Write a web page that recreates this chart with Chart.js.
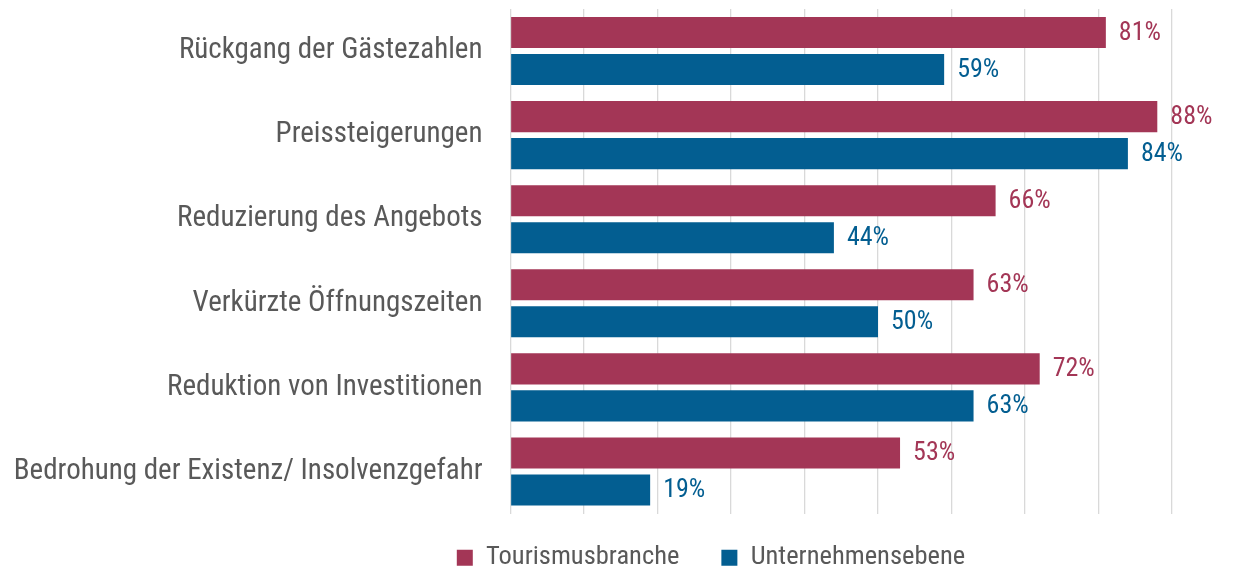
<!DOCTYPE html>
<html>
<head>
<meta charset="utf-8">
<script src="https://cdn.jsdelivr.net/npm/chart.js@4.4.1/dist/chart.umd.min.js"></script>
<style>
  html, body { margin: 0; padding: 0; background: #ffffff; }
  #wrap { position: relative; width: 1235px; height: 567px; }
</style>
</head>
<body>
<div id="wrap"><canvas id="c" width="1235" height="567"></canvas></div>
<script>
const categories = [
  "Rückgang der Gästezahlen",
  "Preissteigerungen",
  "Reduzierung des Angebots",
  "Verkürzte Öffnungszeiten",
  "Reduktion von Investitionen",
  "Bedrohung der Existenz/ Insolvenzgefahr"
];
const seriesNames = ["Tourismusbranche", "Unternehmensebene"];
const tourismValues = [81, 88, 66, 63, 72, 53];
const companyValues = [59, 84, 44, 50, 63, 19];

const PINK = "#A33656";
const BLUE = "#035E91";
const TEXT = "#595959";
const FAMILY = "'Roboto Condensed', Roboto, sans-serif";

const valueLabels = {
  id: 'valueLabels',
  afterDatasetsDraw(chart) {
    const ctx = chart.ctx;
    ctx.save();
    ctx.font = "26px " + FAMILY;
    ctx.textAlign = 'left';
    ctx.textBaseline = 'middle';
    chart.data.datasets.forEach((ds, di) => {
      const meta = chart.getDatasetMeta(di);
      ctx.fillStyle = ds.backgroundColor;
      meta.data.forEach((bar, i) => {
        ctx.fillText(ds.data[i] + "%", bar.x + 13, bar.y + 1);
      });
    });
    ctx.restore();
  }
};

// the legend in the reference sits right of the canvas centre and close to the bottom edge
const legendShift = {
  id: 'legendShift',
  afterLayout(chart) {
    const lg = chart.legend;
    if (lg) { lg.left += 120; lg.right += 120; lg.top += 6; lg.bottom += 6; }
  }
};

new Chart(document.getElementById('c'), {
  type: 'bar',
  data: {
    labels: categories,
    datasets: [
      { label: seriesNames[0], data: tourismValues, backgroundColor: PINK, categoryPercentage: 0.88, barPercentage: 0.84 },
      { label: seriesNames[1], data: companyValues, backgroundColor: BLUE, categoryPercentage: 0.88, barPercentage: 0.84 }
    ]
  },
  options: {
    indexAxis: 'y',
    responsive: false,
    animation: false,
    layout: { padding: { left: 10, right: 63, top: 9, bottom: -25 } },
    scales: {
      x: {
        min: 0, max: 90,
        ticks: { display: false, stepSize: 10 },
        grid: { color: '#D9D9D9', lineWidth: 1.3, drawTicks: false },
        border: { display: false },
        afterFit(scale) { scale.height = -17; }
      },
      y: {
        ticks: { color: TEXT, font: { family: FAMILY, size: 29 }, padding: 28 },
        grid: { display: false, drawTicks: false },
        border: { display: false },
        afterFit(scale) { scale.width = 500.5; scale.paddingTop = 0; scale.paddingBottom = 0; }
      }
    },
    plugins: {
      legend: {
        position: 'bottom',
        labels: {
          color: TEXT,
          font: { family: FAMILY, size: 26.5 },
          boxWidth: 16, boxHeight: 16,
          padding: 42
        }
      },
      tooltip: { enabled: false }
    }
  },
  plugins: [valueLabels, legendShift]
});
</script>
</body>
</html>
